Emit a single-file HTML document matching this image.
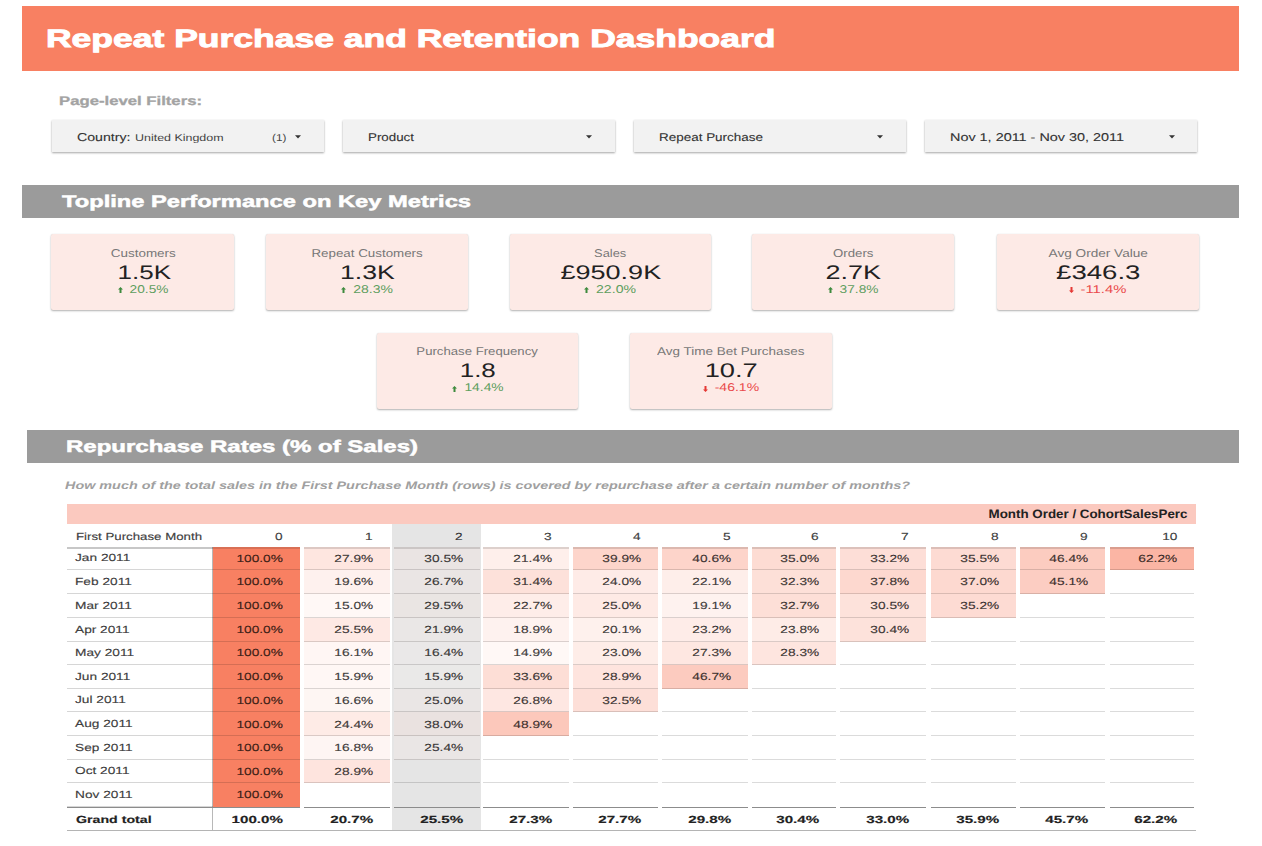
<!DOCTYPE html>
<html><head><meta charset="utf-8"><title>Repeat Purchase and Retention Dashboard</title>
<style>
html,body{margin:0;padding:0;background:#fff;}
body{width:1262px;height:846px;position:relative;overflow:hidden;font-family:'Liberation Sans', sans-serif;text-rendering:geometricPrecision;}
</style></head><body>
<div style="position:absolute;left:22px;top:6px;width:1217px;height:64.5px;background:#F88062"></div>
<div style="position:absolute;left:52px;top:120px;width:272px;height:32px;background:#f2f2f2;box-shadow:0 1px 2px rgba(0,0,0,0.35),0 0 1px rgba(0,0,0,0.06)"></div>
<div style="position:absolute;left:343px;top:120px;width:272px;height:32px;background:#f2f2f2;box-shadow:0 1px 2px rgba(0,0,0,0.35),0 0 1px rgba(0,0,0,0.06)"></div>
<div style="position:absolute;left:634px;top:120px;width:272px;height:32px;background:#f2f2f2;box-shadow:0 1px 2px rgba(0,0,0,0.35),0 0 1px rgba(0,0,0,0.06)"></div>
<div style="position:absolute;left:925px;top:120px;width:272px;height:32px;background:#f2f2f2;box-shadow:0 1px 2px rgba(0,0,0,0.35),0 0 1px rgba(0,0,0,0.06)"></div>
<svg style="position:absolute;left:295px;top:134.7px" width="6" height="4" viewBox="0 0 6 4"><path d="M0 0.3 L6 0.3 L3 3.6 Z" fill="#333"/></svg>
<svg style="position:absolute;left:585.5px;top:134.7px" width="6" height="4" viewBox="0 0 6 4"><path d="M0 0.3 L6 0.3 L3 3.6 Z" fill="#333"/></svg>
<svg style="position:absolute;left:877px;top:134.7px" width="6" height="4" viewBox="0 0 6 4"><path d="M0 0.3 L6 0.3 L3 3.6 Z" fill="#333"/></svg>
<svg style="position:absolute;left:1168.5px;top:134.7px" width="6" height="4" viewBox="0 0 6 4"><path d="M0 0.3 L6 0.3 L3 3.6 Z" fill="#333"/></svg>
<div style="position:absolute;left:22px;top:185px;width:1217px;height:33px;background:#9b9b9b"></div>
<div style="position:absolute;left:27px;top:430px;width:1212px;height:32.60000000000002px;background:#9b9b9b"></div>
<div style="position:absolute;left:51px;top:234px;width:183px;height:76px;background:#fdeae6;box-shadow:0 1px 2px rgba(0,0,0,0.3),0 0 1px rgba(0,0,0,0.1);border-radius:2px"></div>
<div style="position:absolute;left:266px;top:234px;width:202px;height:76px;background:#fdeae6;box-shadow:0 1px 2px rgba(0,0,0,0.3),0 0 1px rgba(0,0,0,0.1);border-radius:2px"></div>
<div style="position:absolute;left:510px;top:234px;width:201px;height:76px;background:#fdeae6;box-shadow:0 1px 2px rgba(0,0,0,0.3),0 0 1px rgba(0,0,0,0.1);border-radius:2px"></div>
<div style="position:absolute;left:752px;top:234px;width:202px;height:76px;background:#fdeae6;box-shadow:0 1px 2px rgba(0,0,0,0.3),0 0 1px rgba(0,0,0,0.1);border-radius:2px"></div>
<div style="position:absolute;left:997px;top:234px;width:202px;height:76px;background:#fdeae6;box-shadow:0 1px 2px rgba(0,0,0,0.3),0 0 1px rgba(0,0,0,0.1);border-radius:2px"></div>
<div style="position:absolute;left:377px;top:333px;width:201px;height:76px;background:#fdeae6;box-shadow:0 1px 2px rgba(0,0,0,0.3),0 0 1px rgba(0,0,0,0.1);border-radius:2px"></div>
<div style="position:absolute;left:630px;top:333px;width:202px;height:76px;background:#fdeae6;box-shadow:0 1px 2px rgba(0,0,0,0.3),0 0 1px rgba(0,0,0,0.1);border-radius:2px"></div>
<div style="position:absolute;left:67px;top:504px;width:1129px;height:20px;background:#fbc9bf"></div>
<div style="position:absolute;left:392px;top:524px;width:89px;height:307px;background:#e5e5e5"></div>
<div style="position:absolute;left:67px;top:569px;width:146px;height:1px;background:#d6d6d6"></div>
<div style="position:absolute;left:213px;top:547px;width:87px;height:23px;background:rgb(248,128,98)"></div>
<div style="position:absolute;left:213px;top:569px;width:87px;height:1px;background:rgba(0,0,0,0.14)"></div>
<div style="position:absolute;left:304px;top:547px;width:86px;height:23px;background:rgb(254,230,224)"></div>
<div style="position:absolute;left:304px;top:569px;width:86px;height:1px;background:rgba(0,0,0,0.14)"></div>
<div style="position:absolute;left:394px;top:547px;width:86px;height:23px;background:rgb(234,228,227)"></div>
<div style="position:absolute;left:394px;top:569px;width:86px;height:1px;background:rgba(0,0,0,0.14)"></div>
<div style="position:absolute;left:483px;top:547px;width:86px;height:23px;background:rgb(254,239,235)"></div>
<div style="position:absolute;left:483px;top:569px;width:86px;height:1px;background:rgba(0,0,0,0.14)"></div>
<div style="position:absolute;left:573px;top:547px;width:85px;height:23px;background:rgb(253,213,203)"></div>
<div style="position:absolute;left:573px;top:569px;width:85px;height:1px;background:rgba(0,0,0,0.14)"></div>
<div style="position:absolute;left:662px;top:547px;width:86px;height:23px;background:rgb(253,212,202)"></div>
<div style="position:absolute;left:662px;top:569px;width:86px;height:1px;background:rgba(0,0,0,0.14)"></div>
<div style="position:absolute;left:752px;top:547px;width:84px;height:23px;background:rgb(253,220,211)"></div>
<div style="position:absolute;left:752px;top:569px;width:84px;height:1px;background:rgba(0,0,0,0.14)"></div>
<div style="position:absolute;left:840px;top:547px;width:86px;height:23px;background:rgb(253,222,215)"></div>
<div style="position:absolute;left:840px;top:569px;width:86px;height:1px;background:rgba(0,0,0,0.14)"></div>
<div style="position:absolute;left:931px;top:547px;width:85px;height:23px;background:rgb(253,219,211)"></div>
<div style="position:absolute;left:931px;top:569px;width:85px;height:1px;background:rgba(0,0,0,0.14)"></div>
<div style="position:absolute;left:1020px;top:547px;width:85px;height:23px;background:rgb(252,204,192)"></div>
<div style="position:absolute;left:1020px;top:569px;width:85px;height:1px;background:rgba(0,0,0,0.14)"></div>
<div style="position:absolute;left:1110px;top:547px;width:84px;height:23px;background:rgb(251,181,164)"></div>
<div style="position:absolute;left:1110px;top:569px;width:84px;height:1px;background:rgba(0,0,0,0.14)"></div>
<div style="position:absolute;left:67px;top:593px;width:146px;height:1px;background:#d6d6d6"></div>
<div style="position:absolute;left:213px;top:570px;width:87px;height:24px;background:rgb(248,128,98)"></div>
<div style="position:absolute;left:213px;top:593px;width:87px;height:1px;background:rgba(0,0,0,0.14)"></div>
<div style="position:absolute;left:304px;top:570px;width:86px;height:24px;background:rgb(254,241,238)"></div>
<div style="position:absolute;left:304px;top:593px;width:86px;height:1px;background:rgba(0,0,0,0.14)"></div>
<div style="position:absolute;left:394px;top:570px;width:86px;height:24px;background:rgb(234,229,228)"></div>
<div style="position:absolute;left:394px;top:593px;width:86px;height:1px;background:rgba(0,0,0,0.14)"></div>
<div style="position:absolute;left:483px;top:570px;width:86px;height:24px;background:rgb(253,225,218)"></div>
<div style="position:absolute;left:483px;top:593px;width:86px;height:1px;background:rgba(0,0,0,0.14)"></div>
<div style="position:absolute;left:573px;top:570px;width:85px;height:24px;background:rgb(254,235,231)"></div>
<div style="position:absolute;left:573px;top:593px;width:85px;height:1px;background:rgba(0,0,0,0.14)"></div>
<div style="position:absolute;left:662px;top:570px;width:86px;height:24px;background:rgb(254,238,234)"></div>
<div style="position:absolute;left:662px;top:593px;width:86px;height:1px;background:rgba(0,0,0,0.14)"></div>
<div style="position:absolute;left:752px;top:570px;width:84px;height:24px;background:rgb(253,224,216)"></div>
<div style="position:absolute;left:752px;top:593px;width:84px;height:1px;background:rgba(0,0,0,0.14)"></div>
<div style="position:absolute;left:840px;top:570px;width:86px;height:24px;background:rgb(253,216,207)"></div>
<div style="position:absolute;left:840px;top:593px;width:86px;height:1px;background:rgba(0,0,0,0.14)"></div>
<div style="position:absolute;left:931px;top:570px;width:85px;height:24px;background:rgb(253,217,208)"></div>
<div style="position:absolute;left:931px;top:593px;width:85px;height:1px;background:rgba(0,0,0,0.14)"></div>
<div style="position:absolute;left:1020px;top:570px;width:85px;height:24px;background:rgb(252,205,194)"></div>
<div style="position:absolute;left:1020px;top:593px;width:85px;height:1px;background:rgba(0,0,0,0.14)"></div>
<div style="position:absolute;left:1110px;top:593px;width:84px;height:1px;background:rgba(0,0,0,0.14)"></div>
<div style="position:absolute;left:67px;top:617px;width:146px;height:1px;background:#d6d6d6"></div>
<div style="position:absolute;left:213px;top:594px;width:87px;height:24px;background:rgb(248,128,98)"></div>
<div style="position:absolute;left:213px;top:617px;width:87px;height:1px;background:rgba(0,0,0,0.14)"></div>
<div style="position:absolute;left:304px;top:594px;width:86px;height:24px;background:rgb(255,248,246)"></div>
<div style="position:absolute;left:304px;top:617px;width:86px;height:1px;background:rgba(0,0,0,0.14)"></div>
<div style="position:absolute;left:394px;top:594px;width:86px;height:24px;background:rgb(234,229,227)"></div>
<div style="position:absolute;left:394px;top:617px;width:86px;height:1px;background:rgba(0,0,0,0.14)"></div>
<div style="position:absolute;left:483px;top:594px;width:86px;height:24px;background:rgb(254,237,233)"></div>
<div style="position:absolute;left:483px;top:617px;width:86px;height:1px;background:rgba(0,0,0,0.14)"></div>
<div style="position:absolute;left:573px;top:594px;width:85px;height:24px;background:rgb(254,234,229)"></div>
<div style="position:absolute;left:573px;top:617px;width:85px;height:1px;background:rgba(0,0,0,0.14)"></div>
<div style="position:absolute;left:662px;top:594px;width:86px;height:24px;background:rgb(254,242,239)"></div>
<div style="position:absolute;left:662px;top:617px;width:86px;height:1px;background:rgba(0,0,0,0.14)"></div>
<div style="position:absolute;left:752px;top:594px;width:84px;height:24px;background:rgb(253,223,215)"></div>
<div style="position:absolute;left:752px;top:617px;width:84px;height:1px;background:rgba(0,0,0,0.14)"></div>
<div style="position:absolute;left:840px;top:594px;width:86px;height:24px;background:rgb(253,226,219)"></div>
<div style="position:absolute;left:840px;top:617px;width:86px;height:1px;background:rgba(0,0,0,0.14)"></div>
<div style="position:absolute;left:931px;top:594px;width:85px;height:24px;background:rgb(253,219,211)"></div>
<div style="position:absolute;left:931px;top:617px;width:85px;height:1px;background:rgba(0,0,0,0.14)"></div>
<div style="position:absolute;left:1020px;top:617px;width:85px;height:1px;background:rgba(0,0,0,0.14)"></div>
<div style="position:absolute;left:1110px;top:617px;width:84px;height:1px;background:rgba(0,0,0,0.14)"></div>
<div style="position:absolute;left:67px;top:641px;width:146px;height:1px;background:#d6d6d6"></div>
<div style="position:absolute;left:213px;top:618px;width:87px;height:24px;background:rgb(248,128,98)"></div>
<div style="position:absolute;left:213px;top:641px;width:87px;height:1px;background:rgba(0,0,0,0.14)"></div>
<div style="position:absolute;left:304px;top:618px;width:86px;height:24px;background:rgb(254,233,228)"></div>
<div style="position:absolute;left:304px;top:641px;width:86px;height:1px;background:rgba(0,0,0,0.14)"></div>
<div style="position:absolute;left:394px;top:618px;width:86px;height:24px;background:rgb(234,231,230)"></div>
<div style="position:absolute;left:394px;top:641px;width:86px;height:1px;background:rgba(0,0,0,0.14)"></div>
<div style="position:absolute;left:483px;top:618px;width:86px;height:24px;background:rgb(254,242,239)"></div>
<div style="position:absolute;left:483px;top:641px;width:86px;height:1px;background:rgba(0,0,0,0.14)"></div>
<div style="position:absolute;left:573px;top:618px;width:85px;height:24px;background:rgb(254,241,237)"></div>
<div style="position:absolute;left:573px;top:641px;width:85px;height:1px;background:rgba(0,0,0,0.14)"></div>
<div style="position:absolute;left:662px;top:618px;width:86px;height:24px;background:rgb(254,236,232)"></div>
<div style="position:absolute;left:662px;top:641px;width:86px;height:1px;background:rgba(0,0,0,0.14)"></div>
<div style="position:absolute;left:752px;top:618px;width:84px;height:24px;background:rgb(254,236,231)"></div>
<div style="position:absolute;left:752px;top:641px;width:84px;height:1px;background:rgba(0,0,0,0.14)"></div>
<div style="position:absolute;left:840px;top:618px;width:86px;height:24px;background:rgb(253,226,219)"></div>
<div style="position:absolute;left:840px;top:641px;width:86px;height:1px;background:rgba(0,0,0,0.14)"></div>
<div style="position:absolute;left:931px;top:641px;width:85px;height:1px;background:rgba(0,0,0,0.14)"></div>
<div style="position:absolute;left:1020px;top:641px;width:85px;height:1px;background:rgba(0,0,0,0.14)"></div>
<div style="position:absolute;left:1110px;top:641px;width:84px;height:1px;background:rgba(0,0,0,0.14)"></div>
<div style="position:absolute;left:67px;top:664px;width:146px;height:1px;background:#d6d6d6"></div>
<div style="position:absolute;left:213px;top:642px;width:87px;height:23px;background:rgb(248,128,98)"></div>
<div style="position:absolute;left:213px;top:664px;width:87px;height:1px;background:rgba(0,0,0,0.14)"></div>
<div style="position:absolute;left:304px;top:642px;width:86px;height:23px;background:rgb(255,246,244)"></div>
<div style="position:absolute;left:304px;top:664px;width:86px;height:1px;background:rgba(0,0,0,0.14)"></div>
<div style="position:absolute;left:394px;top:642px;width:86px;height:23px;background:rgb(234,232,232)"></div>
<div style="position:absolute;left:394px;top:664px;width:86px;height:1px;background:rgba(0,0,0,0.14)"></div>
<div style="position:absolute;left:483px;top:642px;width:86px;height:23px;background:rgb(255,248,246)"></div>
<div style="position:absolute;left:483px;top:664px;width:86px;height:1px;background:rgba(0,0,0,0.14)"></div>
<div style="position:absolute;left:573px;top:642px;width:85px;height:23px;background:rgb(254,237,232)"></div>
<div style="position:absolute;left:573px;top:664px;width:85px;height:1px;background:rgba(0,0,0,0.14)"></div>
<div style="position:absolute;left:662px;top:642px;width:86px;height:23px;background:rgb(254,231,225)"></div>
<div style="position:absolute;left:662px;top:664px;width:86px;height:1px;background:rgba(0,0,0,0.14)"></div>
<div style="position:absolute;left:752px;top:642px;width:84px;height:23px;background:rgb(254,229,223)"></div>
<div style="position:absolute;left:752px;top:664px;width:84px;height:1px;background:rgba(0,0,0,0.14)"></div>
<div style="position:absolute;left:840px;top:664px;width:86px;height:1px;background:rgba(0,0,0,0.14)"></div>
<div style="position:absolute;left:931px;top:664px;width:85px;height:1px;background:rgba(0,0,0,0.14)"></div>
<div style="position:absolute;left:1020px;top:664px;width:85px;height:1px;background:rgba(0,0,0,0.14)"></div>
<div style="position:absolute;left:1110px;top:664px;width:84px;height:1px;background:rgba(0,0,0,0.14)"></div>
<div style="position:absolute;left:67px;top:688px;width:146px;height:1px;background:#d6d6d6"></div>
<div style="position:absolute;left:213px;top:665px;width:87px;height:24px;background:rgb(248,128,98)"></div>
<div style="position:absolute;left:213px;top:688px;width:87px;height:1px;background:rgba(0,0,0,0.14)"></div>
<div style="position:absolute;left:304px;top:665px;width:86px;height:24px;background:rgb(255,247,245)"></div>
<div style="position:absolute;left:304px;top:688px;width:86px;height:1px;background:rgba(0,0,0,0.14)"></div>
<div style="position:absolute;left:394px;top:665px;width:86px;height:24px;background:rgb(234,233,232)"></div>
<div style="position:absolute;left:394px;top:688px;width:86px;height:1px;background:rgba(0,0,0,0.14)"></div>
<div style="position:absolute;left:483px;top:665px;width:86px;height:24px;background:rgb(253,222,214)"></div>
<div style="position:absolute;left:483px;top:688px;width:86px;height:1px;background:rgba(0,0,0,0.14)"></div>
<div style="position:absolute;left:573px;top:665px;width:85px;height:24px;background:rgb(254,228,222)"></div>
<div style="position:absolute;left:573px;top:688px;width:85px;height:1px;background:rgba(0,0,0,0.14)"></div>
<div style="position:absolute;left:662px;top:665px;width:86px;height:24px;background:rgb(252,203,191)"></div>
<div style="position:absolute;left:662px;top:688px;width:86px;height:1px;background:rgba(0,0,0,0.14)"></div>
<div style="position:absolute;left:752px;top:688px;width:84px;height:1px;background:rgba(0,0,0,0.14)"></div>
<div style="position:absolute;left:840px;top:688px;width:86px;height:1px;background:rgba(0,0,0,0.14)"></div>
<div style="position:absolute;left:931px;top:688px;width:85px;height:1px;background:rgba(0,0,0,0.14)"></div>
<div style="position:absolute;left:1020px;top:688px;width:85px;height:1px;background:rgba(0,0,0,0.14)"></div>
<div style="position:absolute;left:1110px;top:688px;width:84px;height:1px;background:rgba(0,0,0,0.14)"></div>
<div style="position:absolute;left:67px;top:711px;width:146px;height:1px;background:#d6d6d6"></div>
<div style="position:absolute;left:213px;top:689px;width:87px;height:23px;background:rgb(248,128,98)"></div>
<div style="position:absolute;left:213px;top:711px;width:87px;height:1px;background:rgba(0,0,0,0.14)"></div>
<div style="position:absolute;left:304px;top:689px;width:86px;height:23px;background:rgb(254,246,243)"></div>
<div style="position:absolute;left:304px;top:711px;width:86px;height:1px;background:rgba(0,0,0,0.14)"></div>
<div style="position:absolute;left:394px;top:689px;width:86px;height:23px;background:rgb(234,230,229)"></div>
<div style="position:absolute;left:394px;top:711px;width:86px;height:1px;background:rgba(0,0,0,0.14)"></div>
<div style="position:absolute;left:483px;top:689px;width:86px;height:23px;background:rgb(254,231,226)"></div>
<div style="position:absolute;left:483px;top:711px;width:86px;height:1px;background:rgba(0,0,0,0.14)"></div>
<div style="position:absolute;left:573px;top:689px;width:85px;height:23px;background:rgb(253,223,216)"></div>
<div style="position:absolute;left:573px;top:711px;width:85px;height:1px;background:rgba(0,0,0,0.14)"></div>
<div style="position:absolute;left:662px;top:711px;width:86px;height:1px;background:rgba(0,0,0,0.14)"></div>
<div style="position:absolute;left:752px;top:711px;width:84px;height:1px;background:rgba(0,0,0,0.14)"></div>
<div style="position:absolute;left:840px;top:711px;width:86px;height:1px;background:rgba(0,0,0,0.14)"></div>
<div style="position:absolute;left:931px;top:711px;width:85px;height:1px;background:rgba(0,0,0,0.14)"></div>
<div style="position:absolute;left:1020px;top:711px;width:85px;height:1px;background:rgba(0,0,0,0.14)"></div>
<div style="position:absolute;left:1110px;top:711px;width:84px;height:1px;background:rgba(0,0,0,0.14)"></div>
<div style="position:absolute;left:67px;top:735px;width:146px;height:1px;background:#d6d6d6"></div>
<div style="position:absolute;left:213px;top:712px;width:87px;height:24px;background:rgb(248,128,98)"></div>
<div style="position:absolute;left:213px;top:735px;width:87px;height:1px;background:rgba(0,0,0,0.14)"></div>
<div style="position:absolute;left:304px;top:712px;width:86px;height:24px;background:rgb(254,235,230)"></div>
<div style="position:absolute;left:304px;top:735px;width:86px;height:1px;background:rgba(0,0,0,0.14)"></div>
<div style="position:absolute;left:394px;top:712px;width:86px;height:24px;background:rgb(234,226,224)"></div>
<div style="position:absolute;left:394px;top:735px;width:86px;height:1px;background:rgba(0,0,0,0.14)"></div>
<div style="position:absolute;left:483px;top:712px;width:86px;height:24px;background:rgb(252,200,187)"></div>
<div style="position:absolute;left:483px;top:735px;width:86px;height:1px;background:rgba(0,0,0,0.14)"></div>
<div style="position:absolute;left:573px;top:735px;width:85px;height:1px;background:rgba(0,0,0,0.14)"></div>
<div style="position:absolute;left:662px;top:735px;width:86px;height:1px;background:rgba(0,0,0,0.14)"></div>
<div style="position:absolute;left:752px;top:735px;width:84px;height:1px;background:rgba(0,0,0,0.14)"></div>
<div style="position:absolute;left:840px;top:735px;width:86px;height:1px;background:rgba(0,0,0,0.14)"></div>
<div style="position:absolute;left:931px;top:735px;width:85px;height:1px;background:rgba(0,0,0,0.14)"></div>
<div style="position:absolute;left:1020px;top:735px;width:85px;height:1px;background:rgba(0,0,0,0.14)"></div>
<div style="position:absolute;left:1110px;top:735px;width:84px;height:1px;background:rgba(0,0,0,0.14)"></div>
<div style="position:absolute;left:67px;top:759px;width:146px;height:1px;background:#d6d6d6"></div>
<div style="position:absolute;left:213px;top:736px;width:87px;height:24px;background:rgb(248,128,98)"></div>
<div style="position:absolute;left:213px;top:759px;width:87px;height:1px;background:rgba(0,0,0,0.14)"></div>
<div style="position:absolute;left:304px;top:736px;width:86px;height:24px;background:rgb(254,245,243)"></div>
<div style="position:absolute;left:304px;top:759px;width:86px;height:1px;background:rgba(0,0,0,0.14)"></div>
<div style="position:absolute;left:394px;top:736px;width:86px;height:24px;background:rgb(234,230,229)"></div>
<div style="position:absolute;left:394px;top:759px;width:86px;height:1px;background:rgba(0,0,0,0.14)"></div>
<div style="position:absolute;left:483px;top:759px;width:86px;height:1px;background:rgba(0,0,0,0.14)"></div>
<div style="position:absolute;left:573px;top:759px;width:85px;height:1px;background:rgba(0,0,0,0.14)"></div>
<div style="position:absolute;left:662px;top:759px;width:86px;height:1px;background:rgba(0,0,0,0.14)"></div>
<div style="position:absolute;left:752px;top:759px;width:84px;height:1px;background:rgba(0,0,0,0.14)"></div>
<div style="position:absolute;left:840px;top:759px;width:86px;height:1px;background:rgba(0,0,0,0.14)"></div>
<div style="position:absolute;left:931px;top:759px;width:85px;height:1px;background:rgba(0,0,0,0.14)"></div>
<div style="position:absolute;left:1020px;top:759px;width:85px;height:1px;background:rgba(0,0,0,0.14)"></div>
<div style="position:absolute;left:1110px;top:759px;width:84px;height:1px;background:rgba(0,0,0,0.14)"></div>
<div style="position:absolute;left:67px;top:782px;width:146px;height:1px;background:#d6d6d6"></div>
<div style="position:absolute;left:213px;top:760px;width:87px;height:23px;background:rgb(248,128,98)"></div>
<div style="position:absolute;left:213px;top:782px;width:87px;height:1px;background:rgba(0,0,0,0.14)"></div>
<div style="position:absolute;left:304px;top:760px;width:86px;height:23px;background:rgb(254,228,222)"></div>
<div style="position:absolute;left:304px;top:782px;width:86px;height:1px;background:rgba(0,0,0,0.14)"></div>
<div style="position:absolute;left:394px;top:782px;width:86px;height:1px;background:rgba(0,0,0,0.14)"></div>
<div style="position:absolute;left:483px;top:782px;width:86px;height:1px;background:rgba(0,0,0,0.14)"></div>
<div style="position:absolute;left:573px;top:782px;width:85px;height:1px;background:rgba(0,0,0,0.14)"></div>
<div style="position:absolute;left:662px;top:782px;width:86px;height:1px;background:rgba(0,0,0,0.14)"></div>
<div style="position:absolute;left:752px;top:782px;width:84px;height:1px;background:rgba(0,0,0,0.14)"></div>
<div style="position:absolute;left:840px;top:782px;width:86px;height:1px;background:rgba(0,0,0,0.14)"></div>
<div style="position:absolute;left:931px;top:782px;width:85px;height:1px;background:rgba(0,0,0,0.14)"></div>
<div style="position:absolute;left:1020px;top:782px;width:85px;height:1px;background:rgba(0,0,0,0.14)"></div>
<div style="position:absolute;left:1110px;top:782px;width:84px;height:1px;background:rgba(0,0,0,0.14)"></div>
<div style="position:absolute;left:67px;top:806px;width:146px;height:1px;background:#d6d6d6"></div>
<div style="position:absolute;left:213px;top:783px;width:87px;height:24px;background:rgb(248,128,98)"></div>
<div style="position:absolute;left:67px;top:547px;width:146px;height:2px;background:rgba(0,0,0,0.22)"></div>
<div style="position:absolute;left:213px;top:547px;width:87px;height:1.5px;background:rgba(0,0,0,0.13)"></div>
<div style="position:absolute;left:304px;top:547px;width:86px;height:1.5px;background:rgba(0,0,0,0.13)"></div>
<div style="position:absolute;left:394px;top:547px;width:86px;height:1.5px;background:rgba(0,0,0,0.13)"></div>
<div style="position:absolute;left:483px;top:547px;width:86px;height:1.5px;background:rgba(0,0,0,0.13)"></div>
<div style="position:absolute;left:573px;top:547px;width:85px;height:1.5px;background:rgba(0,0,0,0.13)"></div>
<div style="position:absolute;left:662px;top:547px;width:86px;height:1.5px;background:rgba(0,0,0,0.13)"></div>
<div style="position:absolute;left:752px;top:547px;width:84px;height:1.5px;background:rgba(0,0,0,0.13)"></div>
<div style="position:absolute;left:840px;top:547px;width:86px;height:1.5px;background:rgba(0,0,0,0.13)"></div>
<div style="position:absolute;left:931px;top:547px;width:85px;height:1.5px;background:rgba(0,0,0,0.13)"></div>
<div style="position:absolute;left:1020px;top:547px;width:85px;height:1.5px;background:rgba(0,0,0,0.13)"></div>
<div style="position:absolute;left:1110px;top:547px;width:84px;height:1.5px;background:rgba(0,0,0,0.13)"></div>
<div style="position:absolute;left:212px;top:547px;width:1px;height:284px;background:rgba(0,0,0,0.28)"></div>
<div style="position:absolute;left:67px;top:806.5px;width:146px;height:1.5px;background:#8c8c8c"></div>
<div style="position:absolute;left:213px;top:806.5px;width:87px;height:1.5px;background:#8c8c8c"></div>
<div style="position:absolute;left:304px;top:806.5px;width:86px;height:1.5px;background:#8c8c8c"></div>
<div style="position:absolute;left:394px;top:806.5px;width:86px;height:1.5px;background:#8c8c8c"></div>
<div style="position:absolute;left:483px;top:806.5px;width:86px;height:1.5px;background:#8c8c8c"></div>
<div style="position:absolute;left:573px;top:806.5px;width:85px;height:1.5px;background:#8c8c8c"></div>
<div style="position:absolute;left:662px;top:806.5px;width:86px;height:1.5px;background:#8c8c8c"></div>
<div style="position:absolute;left:752px;top:806.5px;width:84px;height:1.5px;background:#8c8c8c"></div>
<div style="position:absolute;left:840px;top:806.5px;width:86px;height:1.5px;background:#8c8c8c"></div>
<div style="position:absolute;left:931px;top:806.5px;width:85px;height:1.5px;background:#8c8c8c"></div>
<div style="position:absolute;left:1020px;top:806.5px;width:85px;height:1.5px;background:#8c8c8c"></div>
<div style="position:absolute;left:1110px;top:806.5px;width:84px;height:1.5px;background:#8c8c8c"></div>
<div style="position:absolute;left:67px;top:830px;width:1129px;height:1px;background:#b4b4b4"></div>
<div style="position:absolute;left:45.60px;top:27.40px;font-family:'Liberation Sans', sans-serif;font-size:25px;font-weight:bold;font-style:normal;line-height:25px;color:#fff;white-space:nowrap;transform:scaleX(1.4192);transform-origin:left 50%;-webkit-text-stroke:0.9px #fff">Repeat Purchase and Retention Dashboard</div>
<div style="position:absolute;left:58.50px;top:94.60px;font-family:'Liberation Sans', sans-serif;font-size:12.5px;font-weight:bold;font-style:normal;line-height:12.5px;color:#a3a3a3;white-space:nowrap;transform:scaleX(1.3364);transform-origin:left 50%;-webkit-text-stroke:0.3px #a3a3a3">Page-level Filters:</div>
<div style="position:absolute;left:76.50px;top:132.50px;font-family:'Liberation Sans', sans-serif;font-size:11.3px;font-weight:normal;font-style:normal;line-height:11.3px;color:#333;white-space:nowrap;transform:scaleX(1.2528);transform-origin:left 50%;-webkit-text-stroke:0.1px #333">Country:</div>
<div style="position:absolute;left:135.20px;top:133.50px;font-family:'Liberation Sans', sans-serif;font-size:9.9px;font-weight:normal;font-style:normal;line-height:9.9px;color:#444;white-space:nowrap;transform:scaleX(1.2609);transform-origin:left 50%">United Kingdom</div>
<div style="position:absolute;left:272.20px;top:133.50px;font-family:'Liberation Sans', sans-serif;font-size:10px;font-weight:normal;font-style:normal;line-height:10px;color:#444;white-space:nowrap;transform:scaleX(1.1770);transform-origin:left 50%">(1)</div>
<div style="position:absolute;left:368.20px;top:132.50px;font-family:'Liberation Sans', sans-serif;font-size:11.3px;font-weight:normal;font-style:normal;line-height:11.3px;color:#333;white-space:nowrap;transform:scaleX(1.1814);transform-origin:left 50%;-webkit-text-stroke:0.1px #333">Product</div>
<div style="position:absolute;left:658.70px;top:132.50px;font-family:'Liberation Sans', sans-serif;font-size:11.3px;font-weight:normal;font-style:normal;line-height:11.3px;color:#333;white-space:nowrap;transform:scaleX(1.1913);transform-origin:left 50%;-webkit-text-stroke:0.1px #333">Repeat Purchase</div>
<div style="position:absolute;left:949.90px;top:132.50px;font-family:'Liberation Sans', sans-serif;font-size:11.3px;font-weight:normal;font-style:normal;line-height:11.3px;color:#333;white-space:nowrap;transform:scaleX(1.2749);transform-origin:left 50%;-webkit-text-stroke:0.1px #333">Nov 1, 2011 - Nov 30, 2011</div>
<div style="position:absolute;left:61.50px;top:194.40px;font-family:'Liberation Sans', sans-serif;font-size:16.8px;font-weight:bold;font-style:normal;line-height:16.8px;color:#fff;white-space:nowrap;transform:scaleX(1.4117);transform-origin:left 50%;-webkit-text-stroke:0.5px #fff">Topline Performance on Key Metrics</div>
<div style="position:absolute;left:66.40px;top:439.30px;font-family:'Liberation Sans', sans-serif;font-size:16.8px;font-weight:bold;font-style:normal;line-height:16.8px;color:#fff;white-space:nowrap;transform:scaleX(1.4296);transform-origin:left 50%;-webkit-text-stroke:0.5px #fff">Repurchase Rates (% of Sales)</div>
<div style="position:absolute;left:115.79px;top:248.80px;font-family:'Liberation Sans', sans-serif;font-size:11.3px;font-weight:normal;font-style:normal;line-height:11.3px;color:#777;white-space:nowrap;transform:scaleX(1.1881);transform-origin:center 50%">Customers</div>
<div style="position:absolute;left:123.85px;top:263.70px;font-family:'Liberation Sans', sans-serif;font-size:19.8px;font-weight:normal;font-style:normal;line-height:19.8px;color:#222;white-space:nowrap;transform:scaleX(1.3144);transform-origin:center 50%">1.5K</div>
<div style="position:absolute;left:133.38px;top:284.70px;font-family:'Liberation Sans', sans-serif;font-size:11.3px;font-weight:normal;font-style:normal;line-height:11.3px;color:#5e9e5e;white-space:nowrap;transform:scaleX(1.2107);transform-origin:center 50%">20.5%</div>
<svg style="position:absolute;left:118.20px;top:287.20px" width="5" height="6" viewBox="0 0 5 6"><path d="M2.5 0 L5 2.6 L3.5 2.6 L3.5 6 L1.5 6 L1.5 2.6 L0 2.6 Z" fill="#3d8a3d"/></svg>
<div style="position:absolute;left:320.11px;top:248.80px;font-family:'Liberation Sans', sans-serif;font-size:11.3px;font-weight:normal;font-style:normal;line-height:11.3px;color:#777;white-space:nowrap;transform:scaleX(1.1817);transform-origin:center 50%">Repeat Customers</div>
<div style="position:absolute;left:347.05px;top:263.70px;font-family:'Liberation Sans', sans-serif;font-size:19.8px;font-weight:normal;font-style:normal;line-height:19.8px;color:#222;white-space:nowrap;transform:scaleX(1.3439);transform-origin:center 50%">1.3K</div>
<div style="position:absolute;left:356.98px;top:284.70px;font-family:'Liberation Sans', sans-serif;font-size:11.3px;font-weight:normal;font-style:normal;line-height:11.3px;color:#5e9e5e;white-space:nowrap;transform:scaleX(1.2388);transform-origin:center 50%">28.3%</div>
<svg style="position:absolute;left:341.35px;top:287.20px" width="5" height="6" viewBox="0 0 5 6"><path d="M2.5 0 L5 2.6 L3.5 2.6 L3.5 6 L1.5 6 L1.5 2.6 L0 2.6 Z" fill="#3d8a3d"/></svg>
<div style="position:absolute;left:596.47px;top:248.80px;font-family:'Liberation Sans', sans-serif;font-size:11.3px;font-weight:normal;font-style:normal;line-height:11.3px;color:#777;white-space:nowrap;transform:scaleX(1.1357);transform-origin:center 50%">Sales</div>
<div style="position:absolute;left:573.55px;top:263.70px;font-family:'Liberation Sans', sans-serif;font-size:19.8px;font-weight:normal;font-style:normal;line-height:19.8px;color:#222;white-space:nowrap;transform:scaleX(1.3649);transform-origin:center 50%">£950.9K</div>
<div style="position:absolute;left:600.18px;top:284.70px;font-family:'Liberation Sans', sans-serif;font-size:11.3px;font-weight:normal;font-style:normal;line-height:11.3px;color:#5e9e5e;white-space:nowrap;transform:scaleX(1.2482);transform-origin:center 50%">22.0%</div>
<svg style="position:absolute;left:584.40px;top:287.20px" width="5" height="6" viewBox="0 0 5 6"><path d="M2.5 0 L5 2.6 L3.5 2.6 L3.5 6 L1.5 6 L1.5 2.6 L0 2.6 Z" fill="#3d8a3d"/></svg>
<div style="position:absolute;left:835.63px;top:248.80px;font-family:'Liberation Sans', sans-serif;font-size:11.3px;font-weight:normal;font-style:normal;line-height:11.3px;color:#777;white-space:nowrap;transform:scaleX(1.1700);transform-origin:center 50%">Orders</div>
<div style="position:absolute;left:832.55px;top:263.70px;font-family:'Liberation Sans', sans-serif;font-size:19.8px;font-weight:normal;font-style:normal;line-height:19.8px;color:#222;white-space:nowrap;transform:scaleX(1.3660);transform-origin:center 50%">2.7K</div>
<div style="position:absolute;left:842.88px;top:284.70px;font-family:'Liberation Sans', sans-serif;font-size:11.3px;font-weight:normal;font-style:normal;line-height:11.3px;color:#5e9e5e;white-space:nowrap;transform:scaleX(1.2138);transform-origin:center 50%">37.8%</div>
<svg style="position:absolute;left:827.65px;top:287.20px" width="5" height="6" viewBox="0 0 5 6"><path d="M2.5 0 L5 2.6 L3.5 2.6 L3.5 6 L1.5 6 L1.5 2.6 L0 2.6 Z" fill="#3d8a3d"/></svg>
<div style="position:absolute;left:1057.26px;top:248.80px;font-family:'Liberation Sans', sans-serif;font-size:11.3px;font-weight:normal;font-style:normal;line-height:11.3px;color:#777;white-space:nowrap;transform:scaleX(1.2039);transform-origin:center 50%">Avg Order Value</div>
<div style="position:absolute;left:1067.84px;top:263.70px;font-family:'Liberation Sans', sans-serif;font-size:19.8px;font-weight:normal;font-style:normal;line-height:19.8px;color:#222;white-space:nowrap;transform:scaleX(1.3947);transform-origin:center 50%">£346.3</div>
<div style="position:absolute;left:1086.32px;top:284.70px;font-family:'Liberation Sans', sans-serif;font-size:11.3px;font-weight:normal;font-style:normal;line-height:11.3px;color:#ea4b4b;white-space:nowrap;transform:scaleX(1.3126);transform-origin:center 50%">-11.4%</div>
<svg style="position:absolute;left:1069.05px;top:287.20px" width="5" height="6" viewBox="0 0 5 6"><path d="M2.5 6 L5 3.4 L3.5 3.4 L3.5 0 L1.5 0 L1.5 3.4 L0 3.4 Z" fill="#e53935"/></svg>
<div style="position:absolute;left:425.38px;top:347.20px;font-family:'Liberation Sans', sans-serif;font-size:11.3px;font-weight:normal;font-style:normal;line-height:11.3px;color:#777;white-space:nowrap;transform:scaleX(1.1655);transform-origin:center 50%">Purchase Frequency</div>
<div style="position:absolute;left:464.25px;top:362.10px;font-family:'Liberation Sans', sans-serif;font-size:19.8px;font-weight:normal;font-style:normal;line-height:19.8px;color:#222;white-space:nowrap;transform:scaleX(1.3091);transform-origin:center 50%">1.8</div>
<div style="position:absolute;left:467.58px;top:383.10px;font-family:'Liberation Sans', sans-serif;font-size:11.3px;font-weight:normal;font-style:normal;line-height:11.3px;color:#5e9e5e;white-space:nowrap;transform:scaleX(1.2232);transform-origin:center 50%">14.4%</div>
<svg style="position:absolute;left:452.20px;top:385.60px" width="5" height="6" viewBox="0 0 5 6"><path d="M2.5 0 L5 2.6 L3.5 2.6 L3.5 6 L1.5 6 L1.5 2.6 L0 2.6 Z" fill="#3d8a3d"/></svg>
<div style="position:absolute;left:669.25px;top:347.20px;font-family:'Liberation Sans', sans-serif;font-size:11.3px;font-weight:normal;font-style:normal;line-height:11.3px;color:#777;white-space:nowrap;transform:scaleX(1.1927);transform-origin:center 50%">Avg Time Bet Purchases</div>
<div style="position:absolute;left:712.04px;top:362.10px;font-family:'Liberation Sans', sans-serif;font-size:19.8px;font-weight:normal;font-style:normal;line-height:19.8px;color:#222;white-space:nowrap;transform:scaleX(1.3787);transform-origin:center 50%">10.7</div>
<div style="position:absolute;left:719.30px;top:383.10px;font-family:'Liberation Sans', sans-serif;font-size:11.3px;font-weight:normal;font-style:normal;line-height:11.3px;color:#ea4b4b;white-space:nowrap;transform:scaleX(1.2403);transform-origin:center 50%">-46.1%</div>
<svg style="position:absolute;left:703.20px;top:385.60px" width="5" height="6" viewBox="0 0 5 6"><path d="M2.5 6 L5 3.4 L3.5 3.4 L3.5 0 L1.5 0 L1.5 3.4 L0 3.4 Z" fill="#e53935"/></svg>
<div style="position:absolute;left:65.40px;top:481.00px;font-family:'Liberation Sans', sans-serif;font-size:10.8px;font-weight:bold;font-style:italic;line-height:10.8px;color:#a0a0a0;white-space:nowrap;transform:scaleX(1.3312);transform-origin:left 50%">How much of the total sales in the First Purchase Month (rows) is covered by repurchase after a certain number of months?</div>
<div style="position:absolute;left:1006.30px;top:508.40px;font-family:'Liberation Sans', sans-serif;font-size:12.2px;font-weight:bold;font-style:normal;line-height:12.2px;color:#222;white-space:nowrap;transform:scaleX(1.0964);transform-origin:right 50%">Month Order / CohortSalesPerc</div>
<div style="position:absolute;left:76.00px;top:533.00px;font-family:'Liberation Sans', sans-serif;font-size:10.3px;font-weight:normal;font-style:normal;line-height:10.3px;color:rgba(0,0,0,0.74);white-space:nowrap;transform:scaleX(1.2876);transform-origin:left 50%;-webkit-text-stroke:0.2px rgba(0,0,0,0.74)">First Purchase Month</div>
<div style="position:absolute;left:277.47px;top:532.50px;font-family:'Liberation Sans', sans-serif;font-size:10.3px;font-weight:normal;font-style:normal;line-height:10.3px;color:rgba(0,0,0,0.74);white-space:nowrap;transform:scaleX(1.3300);transform-origin:right 50%;-webkit-text-stroke:0.2px rgba(0,0,0,0.74)">0</div>
<div style="position:absolute;left:367.47px;top:532.50px;font-family:'Liberation Sans', sans-serif;font-size:10.3px;font-weight:normal;font-style:normal;line-height:10.3px;color:rgba(0,0,0,0.74);white-space:nowrap;transform:scaleX(1.3300);transform-origin:right 50%;-webkit-text-stroke:0.2px rgba(0,0,0,0.74)">1</div>
<div style="position:absolute;left:457.47px;top:532.50px;font-family:'Liberation Sans', sans-serif;font-size:10.3px;font-weight:normal;font-style:normal;line-height:10.3px;color:rgba(0,0,0,0.74);white-space:nowrap;transform:scaleX(1.3300);transform-origin:right 50%;-webkit-text-stroke:0.2px rgba(0,0,0,0.74)">2</div>
<div style="position:absolute;left:546.47px;top:532.50px;font-family:'Liberation Sans', sans-serif;font-size:10.3px;font-weight:normal;font-style:normal;line-height:10.3px;color:rgba(0,0,0,0.74);white-space:nowrap;transform:scaleX(1.3300);transform-origin:right 50%;-webkit-text-stroke:0.2px rgba(0,0,0,0.74)">3</div>
<div style="position:absolute;left:635.47px;top:532.50px;font-family:'Liberation Sans', sans-serif;font-size:10.3px;font-weight:normal;font-style:normal;line-height:10.3px;color:rgba(0,0,0,0.74);white-space:nowrap;transform:scaleX(1.3300);transform-origin:right 50%;-webkit-text-stroke:0.2px rgba(0,0,0,0.74)">4</div>
<div style="position:absolute;left:725.47px;top:532.50px;font-family:'Liberation Sans', sans-serif;font-size:10.3px;font-weight:normal;font-style:normal;line-height:10.3px;color:rgba(0,0,0,0.74);white-space:nowrap;transform:scaleX(1.3300);transform-origin:right 50%;-webkit-text-stroke:0.2px rgba(0,0,0,0.74)">5</div>
<div style="position:absolute;left:813.47px;top:532.50px;font-family:'Liberation Sans', sans-serif;font-size:10.3px;font-weight:normal;font-style:normal;line-height:10.3px;color:rgba(0,0,0,0.74);white-space:nowrap;transform:scaleX(1.3300);transform-origin:right 50%;-webkit-text-stroke:0.2px rgba(0,0,0,0.74)">6</div>
<div style="position:absolute;left:903.47px;top:532.50px;font-family:'Liberation Sans', sans-serif;font-size:10.3px;font-weight:normal;font-style:normal;line-height:10.3px;color:rgba(0,0,0,0.74);white-space:nowrap;transform:scaleX(1.3300);transform-origin:right 50%;-webkit-text-stroke:0.2px rgba(0,0,0,0.74)">7</div>
<div style="position:absolute;left:993.47px;top:532.50px;font-family:'Liberation Sans', sans-serif;font-size:10.3px;font-weight:normal;font-style:normal;line-height:10.3px;color:rgba(0,0,0,0.74);white-space:nowrap;transform:scaleX(1.3300);transform-origin:right 50%;-webkit-text-stroke:0.2px rgba(0,0,0,0.74)">8</div>
<div style="position:absolute;left:1082.47px;top:532.50px;font-family:'Liberation Sans', sans-serif;font-size:10.3px;font-weight:normal;font-style:normal;line-height:10.3px;color:rgba(0,0,0,0.74);white-space:nowrap;transform:scaleX(1.3300);transform-origin:right 50%;-webkit-text-stroke:0.2px rgba(0,0,0,0.74)">9</div>
<div style="position:absolute;left:1165.73px;top:532.50px;font-family:'Liberation Sans', sans-serif;font-size:10.3px;font-weight:normal;font-style:normal;line-height:10.3px;color:rgba(0,0,0,0.74);white-space:nowrap;transform:scaleX(1.3300);transform-origin:right 50%;-webkit-text-stroke:0.2px rgba(0,0,0,0.74)">10</div>
<div style="position:absolute;left:75.20px;top:554.20px;font-family:'Liberation Sans', sans-serif;font-size:10.3px;font-weight:normal;font-style:normal;line-height:10.3px;color:rgba(0,0,0,0.74);white-space:nowrap;transform:scaleX(1.3300);transform-origin:left 50%;-webkit-text-stroke:0.2px rgba(0,0,0,0.74)">Jan 2011</div>
<div style="position:absolute;left:248.26px;top:554.60px;font-family:'Liberation Sans', sans-serif;font-size:10.3px;font-weight:normal;font-style:normal;line-height:10.3px;color:rgba(0,0,0,0.74);white-space:nowrap;transform:scaleX(1.3300);transform-origin:right 50%;-webkit-text-stroke:0.2px rgba(0,0,0,0.74)">100.0%</div>
<div style="position:absolute;left:344.00px;top:554.60px;font-family:'Liberation Sans', sans-serif;font-size:10.3px;font-weight:normal;font-style:normal;line-height:10.3px;color:rgba(0,0,0,0.74);white-space:nowrap;transform:scaleX(1.3300);transform-origin:right 50%;-webkit-text-stroke:0.2px rgba(0,0,0,0.74)">27.9%</div>
<div style="position:absolute;left:434.00px;top:554.60px;font-family:'Liberation Sans', sans-serif;font-size:10.3px;font-weight:normal;font-style:normal;line-height:10.3px;color:rgba(0,0,0,0.74);white-space:nowrap;transform:scaleX(1.3300);transform-origin:right 50%;-webkit-text-stroke:0.2px rgba(0,0,0,0.74)">30.5%</div>
<div style="position:absolute;left:523.00px;top:554.60px;font-family:'Liberation Sans', sans-serif;font-size:10.3px;font-weight:normal;font-style:normal;line-height:10.3px;color:rgba(0,0,0,0.74);white-space:nowrap;transform:scaleX(1.3300);transform-origin:right 50%;-webkit-text-stroke:0.2px rgba(0,0,0,0.74)">21.4%</div>
<div style="position:absolute;left:612.00px;top:554.60px;font-family:'Liberation Sans', sans-serif;font-size:10.3px;font-weight:normal;font-style:normal;line-height:10.3px;color:rgba(0,0,0,0.74);white-space:nowrap;transform:scaleX(1.3300);transform-origin:right 50%;-webkit-text-stroke:0.2px rgba(0,0,0,0.74)">39.9%</div>
<div style="position:absolute;left:702.00px;top:554.60px;font-family:'Liberation Sans', sans-serif;font-size:10.3px;font-weight:normal;font-style:normal;line-height:10.3px;color:rgba(0,0,0,0.74);white-space:nowrap;transform:scaleX(1.3300);transform-origin:right 50%;-webkit-text-stroke:0.2px rgba(0,0,0,0.74)">40.6%</div>
<div style="position:absolute;left:790.00px;top:554.60px;font-family:'Liberation Sans', sans-serif;font-size:10.3px;font-weight:normal;font-style:normal;line-height:10.3px;color:rgba(0,0,0,0.74);white-space:nowrap;transform:scaleX(1.3300);transform-origin:right 50%;-webkit-text-stroke:0.2px rgba(0,0,0,0.74)">35.0%</div>
<div style="position:absolute;left:880.00px;top:554.60px;font-family:'Liberation Sans', sans-serif;font-size:10.3px;font-weight:normal;font-style:normal;line-height:10.3px;color:rgba(0,0,0,0.74);white-space:nowrap;transform:scaleX(1.3300);transform-origin:right 50%;-webkit-text-stroke:0.2px rgba(0,0,0,0.74)">33.2%</div>
<div style="position:absolute;left:970.00px;top:554.60px;font-family:'Liberation Sans', sans-serif;font-size:10.3px;font-weight:normal;font-style:normal;line-height:10.3px;color:rgba(0,0,0,0.74);white-space:nowrap;transform:scaleX(1.3300);transform-origin:right 50%;-webkit-text-stroke:0.2px rgba(0,0,0,0.74)">35.5%</div>
<div style="position:absolute;left:1059.00px;top:554.60px;font-family:'Liberation Sans', sans-serif;font-size:10.3px;font-weight:normal;font-style:normal;line-height:10.3px;color:rgba(0,0,0,0.74);white-space:nowrap;transform:scaleX(1.3300);transform-origin:right 50%;-webkit-text-stroke:0.2px rgba(0,0,0,0.74)">46.4%</div>
<div style="position:absolute;left:1148.00px;top:554.60px;font-family:'Liberation Sans', sans-serif;font-size:10.3px;font-weight:normal;font-style:normal;line-height:10.3px;color:rgba(0,0,0,0.74);white-space:nowrap;transform:scaleX(1.3300);transform-origin:right 50%;-webkit-text-stroke:0.2px rgba(0,0,0,0.74)">62.2%</div>
<div style="position:absolute;left:75.20px;top:578.00px;font-family:'Liberation Sans', sans-serif;font-size:10.3px;font-weight:normal;font-style:normal;line-height:10.3px;color:rgba(0,0,0,0.74);white-space:nowrap;transform:scaleX(1.3300);transform-origin:left 50%;-webkit-text-stroke:0.2px rgba(0,0,0,0.74)">Feb 2011</div>
<div style="position:absolute;left:248.26px;top:578.40px;font-family:'Liberation Sans', sans-serif;font-size:10.3px;font-weight:normal;font-style:normal;line-height:10.3px;color:rgba(0,0,0,0.74);white-space:nowrap;transform:scaleX(1.3300);transform-origin:right 50%;-webkit-text-stroke:0.2px rgba(0,0,0,0.74)">100.0%</div>
<div style="position:absolute;left:344.00px;top:578.40px;font-family:'Liberation Sans', sans-serif;font-size:10.3px;font-weight:normal;font-style:normal;line-height:10.3px;color:rgba(0,0,0,0.74);white-space:nowrap;transform:scaleX(1.3300);transform-origin:right 50%;-webkit-text-stroke:0.2px rgba(0,0,0,0.74)">19.6%</div>
<div style="position:absolute;left:434.00px;top:578.40px;font-family:'Liberation Sans', sans-serif;font-size:10.3px;font-weight:normal;font-style:normal;line-height:10.3px;color:rgba(0,0,0,0.74);white-space:nowrap;transform:scaleX(1.3300);transform-origin:right 50%;-webkit-text-stroke:0.2px rgba(0,0,0,0.74)">26.7%</div>
<div style="position:absolute;left:523.00px;top:578.40px;font-family:'Liberation Sans', sans-serif;font-size:10.3px;font-weight:normal;font-style:normal;line-height:10.3px;color:rgba(0,0,0,0.74);white-space:nowrap;transform:scaleX(1.3300);transform-origin:right 50%;-webkit-text-stroke:0.2px rgba(0,0,0,0.74)">31.4%</div>
<div style="position:absolute;left:612.00px;top:578.40px;font-family:'Liberation Sans', sans-serif;font-size:10.3px;font-weight:normal;font-style:normal;line-height:10.3px;color:rgba(0,0,0,0.74);white-space:nowrap;transform:scaleX(1.3300);transform-origin:right 50%;-webkit-text-stroke:0.2px rgba(0,0,0,0.74)">24.0%</div>
<div style="position:absolute;left:702.00px;top:578.40px;font-family:'Liberation Sans', sans-serif;font-size:10.3px;font-weight:normal;font-style:normal;line-height:10.3px;color:rgba(0,0,0,0.74);white-space:nowrap;transform:scaleX(1.3300);transform-origin:right 50%;-webkit-text-stroke:0.2px rgba(0,0,0,0.74)">22.1%</div>
<div style="position:absolute;left:790.00px;top:578.40px;font-family:'Liberation Sans', sans-serif;font-size:10.3px;font-weight:normal;font-style:normal;line-height:10.3px;color:rgba(0,0,0,0.74);white-space:nowrap;transform:scaleX(1.3300);transform-origin:right 50%;-webkit-text-stroke:0.2px rgba(0,0,0,0.74)">32.3%</div>
<div style="position:absolute;left:880.00px;top:578.40px;font-family:'Liberation Sans', sans-serif;font-size:10.3px;font-weight:normal;font-style:normal;line-height:10.3px;color:rgba(0,0,0,0.74);white-space:nowrap;transform:scaleX(1.3300);transform-origin:right 50%;-webkit-text-stroke:0.2px rgba(0,0,0,0.74)">37.8%</div>
<div style="position:absolute;left:970.00px;top:578.40px;font-family:'Liberation Sans', sans-serif;font-size:10.3px;font-weight:normal;font-style:normal;line-height:10.3px;color:rgba(0,0,0,0.74);white-space:nowrap;transform:scaleX(1.3300);transform-origin:right 50%;-webkit-text-stroke:0.2px rgba(0,0,0,0.74)">37.0%</div>
<div style="position:absolute;left:1059.00px;top:578.40px;font-family:'Liberation Sans', sans-serif;font-size:10.3px;font-weight:normal;font-style:normal;line-height:10.3px;color:rgba(0,0,0,0.74);white-space:nowrap;transform:scaleX(1.3300);transform-origin:right 50%;-webkit-text-stroke:0.2px rgba(0,0,0,0.74)">45.1%</div>
<div style="position:absolute;left:75.20px;top:601.90px;font-family:'Liberation Sans', sans-serif;font-size:10.3px;font-weight:normal;font-style:normal;line-height:10.3px;color:rgba(0,0,0,0.74);white-space:nowrap;transform:scaleX(1.3300);transform-origin:left 50%;-webkit-text-stroke:0.2px rgba(0,0,0,0.74)">Mar 2011</div>
<div style="position:absolute;left:248.26px;top:602.30px;font-family:'Liberation Sans', sans-serif;font-size:10.3px;font-weight:normal;font-style:normal;line-height:10.3px;color:rgba(0,0,0,0.74);white-space:nowrap;transform:scaleX(1.3300);transform-origin:right 50%;-webkit-text-stroke:0.2px rgba(0,0,0,0.74)">100.0%</div>
<div style="position:absolute;left:344.00px;top:602.30px;font-family:'Liberation Sans', sans-serif;font-size:10.3px;font-weight:normal;font-style:normal;line-height:10.3px;color:rgba(0,0,0,0.74);white-space:nowrap;transform:scaleX(1.3300);transform-origin:right 50%;-webkit-text-stroke:0.2px rgba(0,0,0,0.74)">15.0%</div>
<div style="position:absolute;left:434.00px;top:602.30px;font-family:'Liberation Sans', sans-serif;font-size:10.3px;font-weight:normal;font-style:normal;line-height:10.3px;color:rgba(0,0,0,0.74);white-space:nowrap;transform:scaleX(1.3300);transform-origin:right 50%;-webkit-text-stroke:0.2px rgba(0,0,0,0.74)">29.5%</div>
<div style="position:absolute;left:523.00px;top:602.30px;font-family:'Liberation Sans', sans-serif;font-size:10.3px;font-weight:normal;font-style:normal;line-height:10.3px;color:rgba(0,0,0,0.74);white-space:nowrap;transform:scaleX(1.3300);transform-origin:right 50%;-webkit-text-stroke:0.2px rgba(0,0,0,0.74)">22.7%</div>
<div style="position:absolute;left:612.00px;top:602.30px;font-family:'Liberation Sans', sans-serif;font-size:10.3px;font-weight:normal;font-style:normal;line-height:10.3px;color:rgba(0,0,0,0.74);white-space:nowrap;transform:scaleX(1.3300);transform-origin:right 50%;-webkit-text-stroke:0.2px rgba(0,0,0,0.74)">25.0%</div>
<div style="position:absolute;left:702.00px;top:602.30px;font-family:'Liberation Sans', sans-serif;font-size:10.3px;font-weight:normal;font-style:normal;line-height:10.3px;color:rgba(0,0,0,0.74);white-space:nowrap;transform:scaleX(1.3300);transform-origin:right 50%;-webkit-text-stroke:0.2px rgba(0,0,0,0.74)">19.1%</div>
<div style="position:absolute;left:790.00px;top:602.30px;font-family:'Liberation Sans', sans-serif;font-size:10.3px;font-weight:normal;font-style:normal;line-height:10.3px;color:rgba(0,0,0,0.74);white-space:nowrap;transform:scaleX(1.3300);transform-origin:right 50%;-webkit-text-stroke:0.2px rgba(0,0,0,0.74)">32.7%</div>
<div style="position:absolute;left:880.00px;top:602.30px;font-family:'Liberation Sans', sans-serif;font-size:10.3px;font-weight:normal;font-style:normal;line-height:10.3px;color:rgba(0,0,0,0.74);white-space:nowrap;transform:scaleX(1.3300);transform-origin:right 50%;-webkit-text-stroke:0.2px rgba(0,0,0,0.74)">30.5%</div>
<div style="position:absolute;left:970.00px;top:602.30px;font-family:'Liberation Sans', sans-serif;font-size:10.3px;font-weight:normal;font-style:normal;line-height:10.3px;color:rgba(0,0,0,0.74);white-space:nowrap;transform:scaleX(1.3300);transform-origin:right 50%;-webkit-text-stroke:0.2px rgba(0,0,0,0.74)">35.2%</div>
<div style="position:absolute;left:75.20px;top:625.50px;font-family:'Liberation Sans', sans-serif;font-size:10.3px;font-weight:normal;font-style:normal;line-height:10.3px;color:rgba(0,0,0,0.74);white-space:nowrap;transform:scaleX(1.3300);transform-origin:left 50%;-webkit-text-stroke:0.2px rgba(0,0,0,0.74)">Apr 2011</div>
<div style="position:absolute;left:248.26px;top:625.90px;font-family:'Liberation Sans', sans-serif;font-size:10.3px;font-weight:normal;font-style:normal;line-height:10.3px;color:rgba(0,0,0,0.74);white-space:nowrap;transform:scaleX(1.3300);transform-origin:right 50%;-webkit-text-stroke:0.2px rgba(0,0,0,0.74)">100.0%</div>
<div style="position:absolute;left:344.00px;top:625.90px;font-family:'Liberation Sans', sans-serif;font-size:10.3px;font-weight:normal;font-style:normal;line-height:10.3px;color:rgba(0,0,0,0.74);white-space:nowrap;transform:scaleX(1.3300);transform-origin:right 50%;-webkit-text-stroke:0.2px rgba(0,0,0,0.74)">25.5%</div>
<div style="position:absolute;left:434.00px;top:625.90px;font-family:'Liberation Sans', sans-serif;font-size:10.3px;font-weight:normal;font-style:normal;line-height:10.3px;color:rgba(0,0,0,0.74);white-space:nowrap;transform:scaleX(1.3300);transform-origin:right 50%;-webkit-text-stroke:0.2px rgba(0,0,0,0.74)">21.9%</div>
<div style="position:absolute;left:523.00px;top:625.90px;font-family:'Liberation Sans', sans-serif;font-size:10.3px;font-weight:normal;font-style:normal;line-height:10.3px;color:rgba(0,0,0,0.74);white-space:nowrap;transform:scaleX(1.3300);transform-origin:right 50%;-webkit-text-stroke:0.2px rgba(0,0,0,0.74)">18.9%</div>
<div style="position:absolute;left:612.00px;top:625.90px;font-family:'Liberation Sans', sans-serif;font-size:10.3px;font-weight:normal;font-style:normal;line-height:10.3px;color:rgba(0,0,0,0.74);white-space:nowrap;transform:scaleX(1.3300);transform-origin:right 50%;-webkit-text-stroke:0.2px rgba(0,0,0,0.74)">20.1%</div>
<div style="position:absolute;left:702.00px;top:625.90px;font-family:'Liberation Sans', sans-serif;font-size:10.3px;font-weight:normal;font-style:normal;line-height:10.3px;color:rgba(0,0,0,0.74);white-space:nowrap;transform:scaleX(1.3300);transform-origin:right 50%;-webkit-text-stroke:0.2px rgba(0,0,0,0.74)">23.2%</div>
<div style="position:absolute;left:790.00px;top:625.90px;font-family:'Liberation Sans', sans-serif;font-size:10.3px;font-weight:normal;font-style:normal;line-height:10.3px;color:rgba(0,0,0,0.74);white-space:nowrap;transform:scaleX(1.3300);transform-origin:right 50%;-webkit-text-stroke:0.2px rgba(0,0,0,0.74)">23.8%</div>
<div style="position:absolute;left:880.00px;top:625.90px;font-family:'Liberation Sans', sans-serif;font-size:10.3px;font-weight:normal;font-style:normal;line-height:10.3px;color:rgba(0,0,0,0.74);white-space:nowrap;transform:scaleX(1.3300);transform-origin:right 50%;-webkit-text-stroke:0.2px rgba(0,0,0,0.74)">30.4%</div>
<div style="position:absolute;left:75.20px;top:649.00px;font-family:'Liberation Sans', sans-serif;font-size:10.3px;font-weight:normal;font-style:normal;line-height:10.3px;color:rgba(0,0,0,0.74);white-space:nowrap;transform:scaleX(1.3300);transform-origin:left 50%;-webkit-text-stroke:0.2px rgba(0,0,0,0.74)">May 2011</div>
<div style="position:absolute;left:248.26px;top:649.40px;font-family:'Liberation Sans', sans-serif;font-size:10.3px;font-weight:normal;font-style:normal;line-height:10.3px;color:rgba(0,0,0,0.74);white-space:nowrap;transform:scaleX(1.3300);transform-origin:right 50%;-webkit-text-stroke:0.2px rgba(0,0,0,0.74)">100.0%</div>
<div style="position:absolute;left:344.00px;top:649.40px;font-family:'Liberation Sans', sans-serif;font-size:10.3px;font-weight:normal;font-style:normal;line-height:10.3px;color:rgba(0,0,0,0.74);white-space:nowrap;transform:scaleX(1.3300);transform-origin:right 50%;-webkit-text-stroke:0.2px rgba(0,0,0,0.74)">16.1%</div>
<div style="position:absolute;left:434.00px;top:649.40px;font-family:'Liberation Sans', sans-serif;font-size:10.3px;font-weight:normal;font-style:normal;line-height:10.3px;color:rgba(0,0,0,0.74);white-space:nowrap;transform:scaleX(1.3300);transform-origin:right 50%;-webkit-text-stroke:0.2px rgba(0,0,0,0.74)">16.4%</div>
<div style="position:absolute;left:523.00px;top:649.40px;font-family:'Liberation Sans', sans-serif;font-size:10.3px;font-weight:normal;font-style:normal;line-height:10.3px;color:rgba(0,0,0,0.74);white-space:nowrap;transform:scaleX(1.3300);transform-origin:right 50%;-webkit-text-stroke:0.2px rgba(0,0,0,0.74)">14.9%</div>
<div style="position:absolute;left:612.00px;top:649.40px;font-family:'Liberation Sans', sans-serif;font-size:10.3px;font-weight:normal;font-style:normal;line-height:10.3px;color:rgba(0,0,0,0.74);white-space:nowrap;transform:scaleX(1.3300);transform-origin:right 50%;-webkit-text-stroke:0.2px rgba(0,0,0,0.74)">23.0%</div>
<div style="position:absolute;left:702.00px;top:649.40px;font-family:'Liberation Sans', sans-serif;font-size:10.3px;font-weight:normal;font-style:normal;line-height:10.3px;color:rgba(0,0,0,0.74);white-space:nowrap;transform:scaleX(1.3300);transform-origin:right 50%;-webkit-text-stroke:0.2px rgba(0,0,0,0.74)">27.3%</div>
<div style="position:absolute;left:790.00px;top:649.40px;font-family:'Liberation Sans', sans-serif;font-size:10.3px;font-weight:normal;font-style:normal;line-height:10.3px;color:rgba(0,0,0,0.74);white-space:nowrap;transform:scaleX(1.3300);transform-origin:right 50%;-webkit-text-stroke:0.2px rgba(0,0,0,0.74)">28.3%</div>
<div style="position:absolute;left:75.20px;top:672.80px;font-family:'Liberation Sans', sans-serif;font-size:10.3px;font-weight:normal;font-style:normal;line-height:10.3px;color:rgba(0,0,0,0.74);white-space:nowrap;transform:scaleX(1.3300);transform-origin:left 50%;-webkit-text-stroke:0.2px rgba(0,0,0,0.74)">Jun 2011</div>
<div style="position:absolute;left:248.26px;top:673.20px;font-family:'Liberation Sans', sans-serif;font-size:10.3px;font-weight:normal;font-style:normal;line-height:10.3px;color:rgba(0,0,0,0.74);white-space:nowrap;transform:scaleX(1.3300);transform-origin:right 50%;-webkit-text-stroke:0.2px rgba(0,0,0,0.74)">100.0%</div>
<div style="position:absolute;left:344.00px;top:673.20px;font-family:'Liberation Sans', sans-serif;font-size:10.3px;font-weight:normal;font-style:normal;line-height:10.3px;color:rgba(0,0,0,0.74);white-space:nowrap;transform:scaleX(1.3300);transform-origin:right 50%;-webkit-text-stroke:0.2px rgba(0,0,0,0.74)">15.9%</div>
<div style="position:absolute;left:434.00px;top:673.20px;font-family:'Liberation Sans', sans-serif;font-size:10.3px;font-weight:normal;font-style:normal;line-height:10.3px;color:rgba(0,0,0,0.74);white-space:nowrap;transform:scaleX(1.3300);transform-origin:right 50%;-webkit-text-stroke:0.2px rgba(0,0,0,0.74)">15.9%</div>
<div style="position:absolute;left:523.00px;top:673.20px;font-family:'Liberation Sans', sans-serif;font-size:10.3px;font-weight:normal;font-style:normal;line-height:10.3px;color:rgba(0,0,0,0.74);white-space:nowrap;transform:scaleX(1.3300);transform-origin:right 50%;-webkit-text-stroke:0.2px rgba(0,0,0,0.74)">33.6%</div>
<div style="position:absolute;left:612.00px;top:673.20px;font-family:'Liberation Sans', sans-serif;font-size:10.3px;font-weight:normal;font-style:normal;line-height:10.3px;color:rgba(0,0,0,0.74);white-space:nowrap;transform:scaleX(1.3300);transform-origin:right 50%;-webkit-text-stroke:0.2px rgba(0,0,0,0.74)">28.9%</div>
<div style="position:absolute;left:702.00px;top:673.20px;font-family:'Liberation Sans', sans-serif;font-size:10.3px;font-weight:normal;font-style:normal;line-height:10.3px;color:rgba(0,0,0,0.74);white-space:nowrap;transform:scaleX(1.3300);transform-origin:right 50%;-webkit-text-stroke:0.2px rgba(0,0,0,0.74)">46.7%</div>
<div style="position:absolute;left:75.20px;top:696.40px;font-family:'Liberation Sans', sans-serif;font-size:10.3px;font-weight:normal;font-style:normal;line-height:10.3px;color:rgba(0,0,0,0.74);white-space:nowrap;transform:scaleX(1.3300);transform-origin:left 50%;-webkit-text-stroke:0.2px rgba(0,0,0,0.74)">Jul 2011</div>
<div style="position:absolute;left:248.26px;top:696.80px;font-family:'Liberation Sans', sans-serif;font-size:10.3px;font-weight:normal;font-style:normal;line-height:10.3px;color:rgba(0,0,0,0.74);white-space:nowrap;transform:scaleX(1.3300);transform-origin:right 50%;-webkit-text-stroke:0.2px rgba(0,0,0,0.74)">100.0%</div>
<div style="position:absolute;left:344.00px;top:696.80px;font-family:'Liberation Sans', sans-serif;font-size:10.3px;font-weight:normal;font-style:normal;line-height:10.3px;color:rgba(0,0,0,0.74);white-space:nowrap;transform:scaleX(1.3300);transform-origin:right 50%;-webkit-text-stroke:0.2px rgba(0,0,0,0.74)">16.6%</div>
<div style="position:absolute;left:434.00px;top:696.80px;font-family:'Liberation Sans', sans-serif;font-size:10.3px;font-weight:normal;font-style:normal;line-height:10.3px;color:rgba(0,0,0,0.74);white-space:nowrap;transform:scaleX(1.3300);transform-origin:right 50%;-webkit-text-stroke:0.2px rgba(0,0,0,0.74)">25.0%</div>
<div style="position:absolute;left:523.00px;top:696.80px;font-family:'Liberation Sans', sans-serif;font-size:10.3px;font-weight:normal;font-style:normal;line-height:10.3px;color:rgba(0,0,0,0.74);white-space:nowrap;transform:scaleX(1.3300);transform-origin:right 50%;-webkit-text-stroke:0.2px rgba(0,0,0,0.74)">26.8%</div>
<div style="position:absolute;left:612.00px;top:696.80px;font-family:'Liberation Sans', sans-serif;font-size:10.3px;font-weight:normal;font-style:normal;line-height:10.3px;color:rgba(0,0,0,0.74);white-space:nowrap;transform:scaleX(1.3300);transform-origin:right 50%;-webkit-text-stroke:0.2px rgba(0,0,0,0.74)">32.5%</div>
<div style="position:absolute;left:75.20px;top:720.10px;font-family:'Liberation Sans', sans-serif;font-size:10.3px;font-weight:normal;font-style:normal;line-height:10.3px;color:rgba(0,0,0,0.74);white-space:nowrap;transform:scaleX(1.3300);transform-origin:left 50%;-webkit-text-stroke:0.2px rgba(0,0,0,0.74)">Aug 2011</div>
<div style="position:absolute;left:248.26px;top:720.50px;font-family:'Liberation Sans', sans-serif;font-size:10.3px;font-weight:normal;font-style:normal;line-height:10.3px;color:rgba(0,0,0,0.74);white-space:nowrap;transform:scaleX(1.3300);transform-origin:right 50%;-webkit-text-stroke:0.2px rgba(0,0,0,0.74)">100.0%</div>
<div style="position:absolute;left:344.00px;top:720.50px;font-family:'Liberation Sans', sans-serif;font-size:10.3px;font-weight:normal;font-style:normal;line-height:10.3px;color:rgba(0,0,0,0.74);white-space:nowrap;transform:scaleX(1.3300);transform-origin:right 50%;-webkit-text-stroke:0.2px rgba(0,0,0,0.74)">24.4%</div>
<div style="position:absolute;left:434.00px;top:720.50px;font-family:'Liberation Sans', sans-serif;font-size:10.3px;font-weight:normal;font-style:normal;line-height:10.3px;color:rgba(0,0,0,0.74);white-space:nowrap;transform:scaleX(1.3300);transform-origin:right 50%;-webkit-text-stroke:0.2px rgba(0,0,0,0.74)">38.0%</div>
<div style="position:absolute;left:523.00px;top:720.50px;font-family:'Liberation Sans', sans-serif;font-size:10.3px;font-weight:normal;font-style:normal;line-height:10.3px;color:rgba(0,0,0,0.74);white-space:nowrap;transform:scaleX(1.3300);transform-origin:right 50%;-webkit-text-stroke:0.2px rgba(0,0,0,0.74)">48.9%</div>
<div style="position:absolute;left:75.20px;top:743.70px;font-family:'Liberation Sans', sans-serif;font-size:10.3px;font-weight:normal;font-style:normal;line-height:10.3px;color:rgba(0,0,0,0.74);white-space:nowrap;transform:scaleX(1.3300);transform-origin:left 50%;-webkit-text-stroke:0.2px rgba(0,0,0,0.74)">Sep 2011</div>
<div style="position:absolute;left:248.26px;top:744.10px;font-family:'Liberation Sans', sans-serif;font-size:10.3px;font-weight:normal;font-style:normal;line-height:10.3px;color:rgba(0,0,0,0.74);white-space:nowrap;transform:scaleX(1.3300);transform-origin:right 50%;-webkit-text-stroke:0.2px rgba(0,0,0,0.74)">100.0%</div>
<div style="position:absolute;left:344.00px;top:744.10px;font-family:'Liberation Sans', sans-serif;font-size:10.3px;font-weight:normal;font-style:normal;line-height:10.3px;color:rgba(0,0,0,0.74);white-space:nowrap;transform:scaleX(1.3300);transform-origin:right 50%;-webkit-text-stroke:0.2px rgba(0,0,0,0.74)">16.8%</div>
<div style="position:absolute;left:434.00px;top:744.10px;font-family:'Liberation Sans', sans-serif;font-size:10.3px;font-weight:normal;font-style:normal;line-height:10.3px;color:rgba(0,0,0,0.74);white-space:nowrap;transform:scaleX(1.3300);transform-origin:right 50%;-webkit-text-stroke:0.2px rgba(0,0,0,0.74)">25.4%</div>
<div style="position:absolute;left:75.20px;top:767.20px;font-family:'Liberation Sans', sans-serif;font-size:10.3px;font-weight:normal;font-style:normal;line-height:10.3px;color:rgba(0,0,0,0.74);white-space:nowrap;transform:scaleX(1.3300);transform-origin:left 50%;-webkit-text-stroke:0.2px rgba(0,0,0,0.74)">Oct 2011</div>
<div style="position:absolute;left:248.26px;top:767.60px;font-family:'Liberation Sans', sans-serif;font-size:10.3px;font-weight:normal;font-style:normal;line-height:10.3px;color:rgba(0,0,0,0.74);white-space:nowrap;transform:scaleX(1.3300);transform-origin:right 50%;-webkit-text-stroke:0.2px rgba(0,0,0,0.74)">100.0%</div>
<div style="position:absolute;left:344.00px;top:767.60px;font-family:'Liberation Sans', sans-serif;font-size:10.3px;font-weight:normal;font-style:normal;line-height:10.3px;color:rgba(0,0,0,0.74);white-space:nowrap;transform:scaleX(1.3300);transform-origin:right 50%;-webkit-text-stroke:0.2px rgba(0,0,0,0.74)">28.9%</div>
<div style="position:absolute;left:75.20px;top:791.00px;font-family:'Liberation Sans', sans-serif;font-size:10.3px;font-weight:normal;font-style:normal;line-height:10.3px;color:rgba(0,0,0,0.74);white-space:nowrap;transform:scaleX(1.3300);transform-origin:left 50%;-webkit-text-stroke:0.2px rgba(0,0,0,0.74)">Nov 2011</div>
<div style="position:absolute;left:248.26px;top:791.40px;font-family:'Liberation Sans', sans-serif;font-size:10.3px;font-weight:normal;font-style:normal;line-height:10.3px;color:rgba(0,0,0,0.74);white-space:nowrap;transform:scaleX(1.3300);transform-origin:right 50%;-webkit-text-stroke:0.2px rgba(0,0,0,0.74)">100.0%</div>
<div style="position:absolute;left:76.00px;top:815.60px;font-family:'Liberation Sans', sans-serif;font-size:10.3px;font-weight:bold;font-style:normal;line-height:10.3px;color:#222;white-space:nowrap;transform:scaleX(1.3765);transform-origin:left 50%;-webkit-text-stroke:0.15px #222">Grand total</div>
<div style="position:absolute;left:248.46px;top:816.20px;font-family:'Liberation Sans', sans-serif;font-size:10.3px;font-weight:bold;font-style:normal;line-height:10.3px;color:#222;white-space:nowrap;transform:scaleX(1.4700);transform-origin:right 50%;-webkit-text-stroke:0.15px #222">100.0%</div>
<div style="position:absolute;left:344.20px;top:816.20px;font-family:'Liberation Sans', sans-serif;font-size:10.3px;font-weight:bold;font-style:normal;line-height:10.3px;color:#222;white-space:nowrap;transform:scaleX(1.4700);transform-origin:right 50%;-webkit-text-stroke:0.15px #222">20.7%</div>
<div style="position:absolute;left:434.20px;top:816.20px;font-family:'Liberation Sans', sans-serif;font-size:10.3px;font-weight:bold;font-style:normal;line-height:10.3px;color:#222;white-space:nowrap;transform:scaleX(1.4700);transform-origin:right 50%;-webkit-text-stroke:0.15px #222">25.5%</div>
<div style="position:absolute;left:523.20px;top:816.20px;font-family:'Liberation Sans', sans-serif;font-size:10.3px;font-weight:bold;font-style:normal;line-height:10.3px;color:#222;white-space:nowrap;transform:scaleX(1.4700);transform-origin:right 50%;-webkit-text-stroke:0.15px #222">27.3%</div>
<div style="position:absolute;left:612.20px;top:816.20px;font-family:'Liberation Sans', sans-serif;font-size:10.3px;font-weight:bold;font-style:normal;line-height:10.3px;color:#222;white-space:nowrap;transform:scaleX(1.4700);transform-origin:right 50%;-webkit-text-stroke:0.15px #222">27.7%</div>
<div style="position:absolute;left:702.20px;top:816.20px;font-family:'Liberation Sans', sans-serif;font-size:10.3px;font-weight:bold;font-style:normal;line-height:10.3px;color:#222;white-space:nowrap;transform:scaleX(1.4700);transform-origin:right 50%;-webkit-text-stroke:0.15px #222">29.8%</div>
<div style="position:absolute;left:790.20px;top:816.20px;font-family:'Liberation Sans', sans-serif;font-size:10.3px;font-weight:bold;font-style:normal;line-height:10.3px;color:#222;white-space:nowrap;transform:scaleX(1.4700);transform-origin:right 50%;-webkit-text-stroke:0.15px #222">30.4%</div>
<div style="position:absolute;left:880.20px;top:816.20px;font-family:'Liberation Sans', sans-serif;font-size:10.3px;font-weight:bold;font-style:normal;line-height:10.3px;color:#222;white-space:nowrap;transform:scaleX(1.4700);transform-origin:right 50%;-webkit-text-stroke:0.15px #222">33.0%</div>
<div style="position:absolute;left:970.20px;top:816.20px;font-family:'Liberation Sans', sans-serif;font-size:10.3px;font-weight:bold;font-style:normal;line-height:10.3px;color:#222;white-space:nowrap;transform:scaleX(1.4700);transform-origin:right 50%;-webkit-text-stroke:0.15px #222">35.9%</div>
<div style="position:absolute;left:1059.20px;top:816.20px;font-family:'Liberation Sans', sans-serif;font-size:10.3px;font-weight:bold;font-style:normal;line-height:10.3px;color:#222;white-space:nowrap;transform:scaleX(1.4700);transform-origin:right 50%;-webkit-text-stroke:0.15px #222">45.7%</div>
<div style="position:absolute;left:1148.20px;top:816.20px;font-family:'Liberation Sans', sans-serif;font-size:10.3px;font-weight:bold;font-style:normal;line-height:10.3px;color:#222;white-space:nowrap;transform:scaleX(1.4700);transform-origin:right 50%;-webkit-text-stroke:0.15px #222">62.2%</div>
</body></html>
